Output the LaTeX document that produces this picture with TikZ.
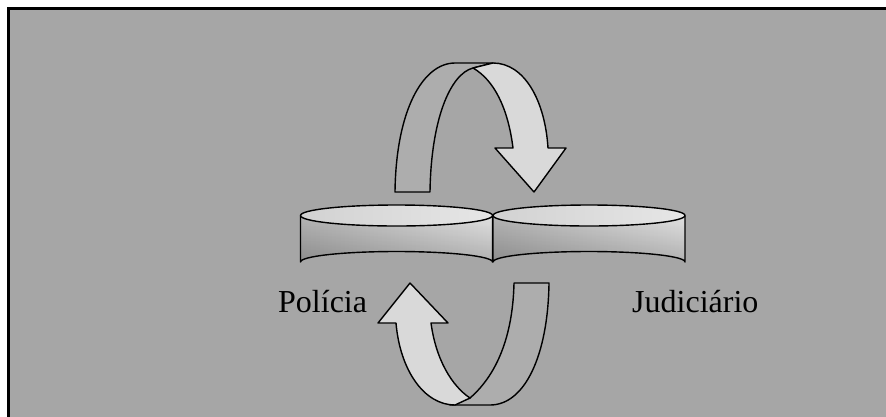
\documentclass[tikz,border=0pt]{standalone}
\usepackage{fontspec}
\setmainfont{Liberation Serif}
\usetikzlibrary{fadings}
\definecolor{bggray}{HTML}{A6A6A6}
\definecolor{backband}{HTML}{ADADAD}
\definecolor{frontband}{HTML}{D9D9D9}
\definecolor{sideleft}{HTML}{B4B4B4}
\definecolor{sideright}{HTML}{E2E2E2}
\definecolor{topleft}{HTML}{D2D2D2}
\definecolor{topright}{HTML}{E6E6E6}
\tikzset{
  outline/.style={draw=black, line width=1.4pt, line join=round},
  label/.style={inner sep=0pt, font=\fontsize{32}{38}\selectfont, text=black},
}
\begin{document}
\begin{tikzpicture}[x=1pt,y=-1pt]
\useasboundingbox (0,0) rectangle (886,416);
\clip (0,0) rectangle (886,416);
\fill[white] (0,0) rectangle (886,416);
% frame
\draw[fill=bggray, line width=3pt] (8,8) rectangle (900,430);

% cylinders
\foreach \cx in {396.5, 589} {
  \shade[left color=sideleft, right color=sideright]
    (\cx-96,215.5) -- (\cx-96,262) arc[start angle=180, end angle=360, x radius=96, y radius=10.5]
    -- (\cx+96,215.5) arc[start angle=0, end angle=180, x radius=96, y radius=10.5] -- cycle;
  \fill[black, fill opacity=0.22, path fading=north]
    (\cx-96,215.5) -- (\cx-96,262) arc[start angle=180, end angle=360, x radius=96, y radius=10.5]
    -- (\cx+96,215.5) arc[start angle=0, end angle=180, x radius=96, y radius=10.5] -- cycle;
  \shade[left color=topleft, right color=topright]
    (\cx,215.5) ellipse[x radius=96, y radius=10.5];
  \draw[outline]
    (\cx-96,215.5) -- (\cx-96,262) arc[start angle=180, end angle=360, x radius=96, y radius=10.5]
    -- (\cx+96,215.5);
  \draw[outline] (\cx,215.5) ellipse[x radius=96, y radius=10.5];
}

% upper arrow: back band
\draw[outline, fill=backband]
  (395,192) -- (430,192) .. controls (431,120) and (450,74) .. (473,68)
  -- (493,63) -- (455,63) .. controls (423,63) and (396,110) .. (395,192) -- cycle;
% upper arrow: front band
\draw[outline, fill=frontband]
  (473,68) -- (493,63) .. controls (524,63) and (545,100) .. (548,148)
  -- (566,148) -- (534,192) -- (495,148) -- (513,148)
  .. controls (508,108) and (494,80) .. (473,68) -- cycle;

% lower arrow: back band
\draw[outline, fill=backband]
  (514,283) -- (549,283) .. controls (548,355) and (525,405) .. (490,405)
  -- (450,405) -- (470,398) .. controls (500,372) and (513,330) .. (514,283) -- cycle;
% lower arrow: front band
\draw[outline, fill=frontband]
  (410,283) -- (448,323) -- (431,323) .. controls (436,360) and (452,386) .. (470,398)
  -- (455,405) .. controls (424,405) and (400,370) .. (396,323) -- (378,323) -- cycle;

% labels
\node[label, anchor=base west] (policia) at (278,312) {Polícia};
\node[label, anchor=base west] (judiciario) at (632,312) {Judiciário};
\end{tikzpicture}
\end{document}
